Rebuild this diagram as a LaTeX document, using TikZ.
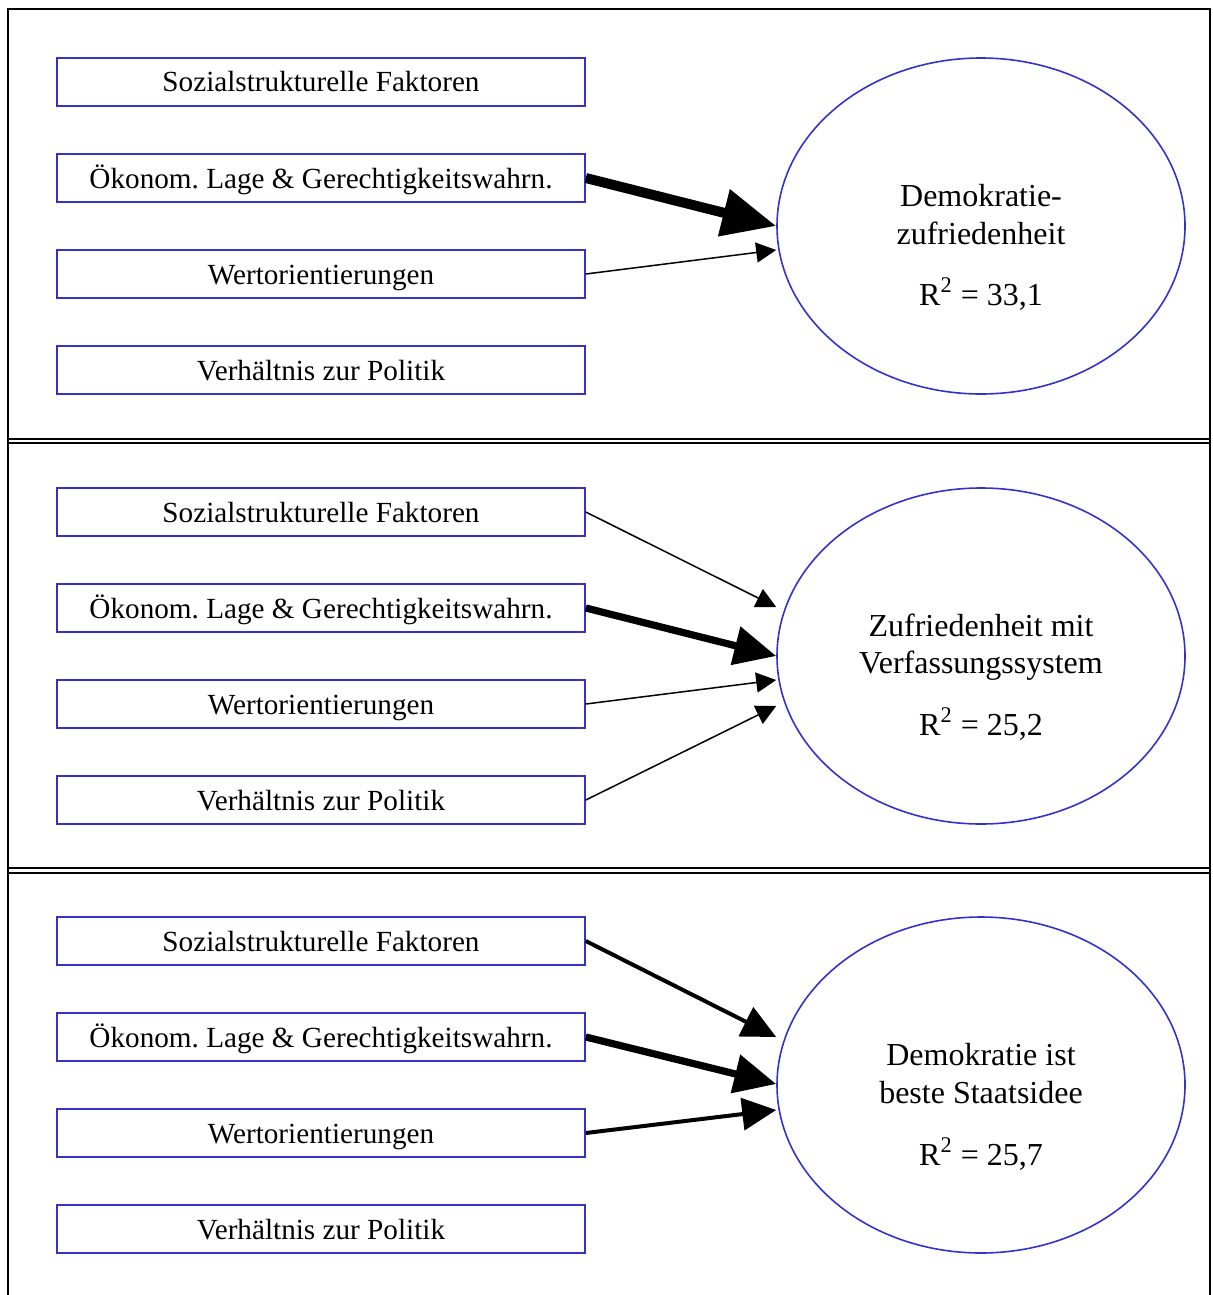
\documentclass[tikz,border=0pt]{standalone}
\usepackage{fontspec}
\setmainfont{Liberation Serif}
\usetikzlibrary{shapes.geometric,arrows.meta}
\definecolor{boxblue}{RGB}{51,51,204}
\frenchspacing
\tikzset{
  inbox/.style={draw=boxblue, line width=0.8pt, minimum width=264pt, minimum height=24pt, inner sep=0pt,
    font=\fontsize{14.6}{17}\selectfont, text height=12pt, text depth=2pt},
  target/.style={draw=boxblue, line width=0.8pt, ellipse, minimum width=204pt, minimum height=168pt, inner sep=0pt},
  etext/.style={font=\fontsize{16}{19}\selectfont, anchor=base, inner sep=0pt},
  thinarr/.style={line width=0.75pt, -{Triangle[length=10pt,width=10pt]}},
  medarr/.style={line width=2pt, -{Triangle[length=17pt,width=16pt]}},
  thickarr/.style={line width=3.6pt, -{Triangle[length=21pt,width=19pt]}},
  vthickarr/.style={line width=5pt, -{Triangle[length=27pt,width=23pt]}},
  frame/.style={line width=1pt, black}
}
\begin{document}
\begin{tikzpicture}[x=0.5pt,y=-0.5pt]
\useasboundingbox (0,0) rectangle (1212,1295);
% frame
\draw[frame] (8,1296) -- (8,9) -- (1210,9) -- (1210,1296);
\draw[frame] (8,438.5) -- (1210,438.5);
\draw[frame] (8,443) -- (1210,443);
\draw[frame] (8,868) -- (1210,868);
\draw[frame] (8,872.5) -- (1210,872.5);

% ===== panel 1
\node[inbox] (a1) at (321,82) {Sozialstrukturelle Faktoren};
\node[inbox] (a2) at (321,178) {Ökonom. Lage \& Gerechtigkeitswahrn.};
\node[inbox] (a3) at (321,274) {Wertorientierungen};
\node[inbox] (a4) at (321,370) {Verhältnis zur Politik};
\node[target] (e1) at (981,226) {};
\node[etext] (t1a) at (981,206) {Demokratie-};
\node[etext] (t1b) at (981,244) {zufriedenheit};
\node[etext] (t1c) at (981,305) {R\textsuperscript{2} = 33,1};
\coordinate (p1b) at ([xshift=0pt]e1.west);
\coordinate (p1c) at ([yshift=-12pt]e1.west);
\draw[vthickarr] (a2.east) -- (p1b);
\draw[thinarr] (a3.east) -- (p1c);

% ===== panel 2
\node[inbox] (b1) at (321,512) {Sozialstrukturelle Faktoren};
\node[inbox] (b2) at (321,608) {Ökonom. Lage \& Gerechtigkeitswahrn.};
\node[inbox] (b3) at (321,704) {Wertorientierungen};
\node[inbox] (b4) at (321,800) {Verhältnis zur Politik};
\node[target] (e2) at (981,656) {};
\node[etext] (t2a) at (981,636) {Zufriedenheit mit};
\node[etext] (t2b) at (981,673) {Verfassungssystem};
\node[etext] (t2c) at (981,735) {R\textsuperscript{2} = 25,2};
\coordinate (p2a) at ([yshift=24.5pt]e2.west);
\coordinate (p2b) at ([yshift=0pt]e2.west);
\coordinate (p2c) at ([yshift=-12pt]e2.west);
\coordinate (p2d) at ([yshift=-25pt]e2.west);
\draw[thinarr] (b1.east) -- (p2a);
\draw[thickarr] (b2.east) -- (p2b);
\draw[thinarr] (b3.east) -- (p2c);
\draw[thinarr] (b4.east) -- (p2d);

% ===== panel 3
\node[inbox] (c1) at (321,941) {Sozialstrukturelle Faktoren};
\node[inbox] (c2) at (321,1037) {Ökonom. Lage \& Gerechtigkeitswahrn.};
\node[inbox] (c3) at (321,1133) {Wertorientierungen};
\node[inbox] (c4) at (321,1229) {Verhältnis zur Politik};
\node[target] (e3) at (981,1085) {};
\node[etext] (t3a) at (981,1065) {Demokratie ist};
\node[etext] (t3b) at (981,1103) {beste Staatsidee};
\node[etext] (t3c) at (981,1165) {R\textsuperscript{2} = 25,7};
\coordinate (p3a) at ([yshift=24pt]e3.west);
\coordinate (p3b) at ([yshift=0.5pt]e3.west);
\coordinate (p3c) at ([yshift=-12.5pt]e3.west);
\draw[medarr] (c1.east) -- (p3a);
\draw[thickarr] (c2.east) -- (p3b);
\draw[medarr] (c3.east) -- (p3c);
\end{tikzpicture}
\end{document}
